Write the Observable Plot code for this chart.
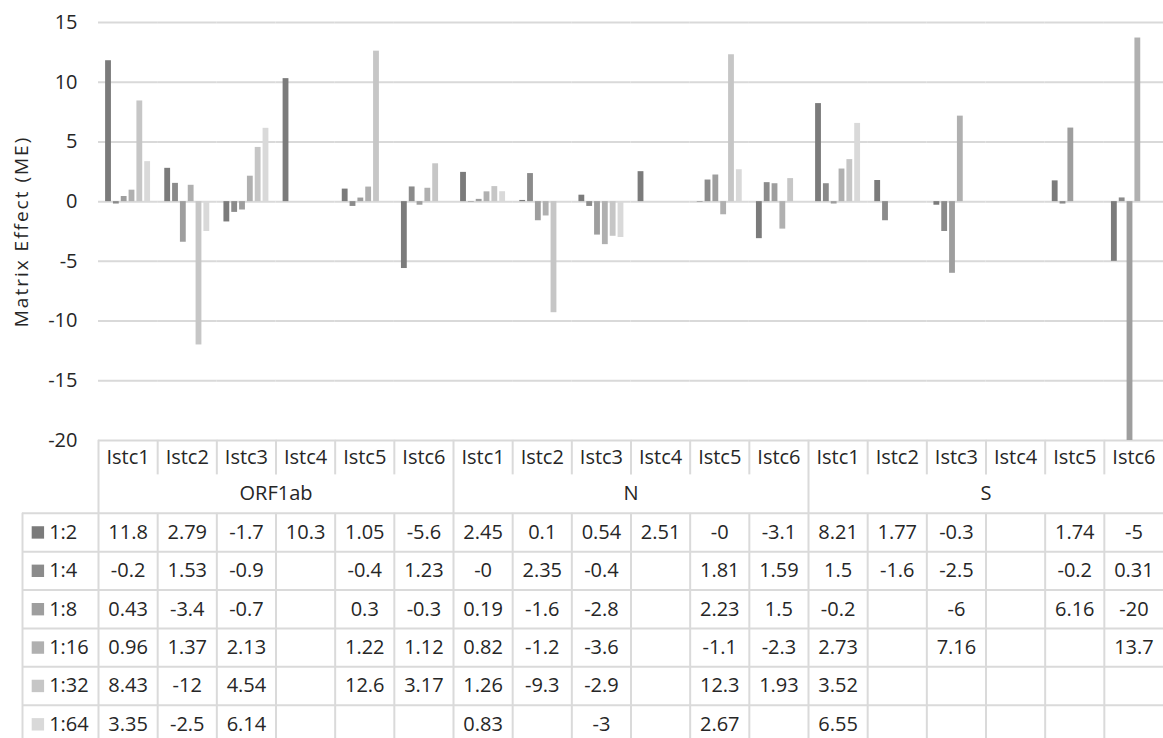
<!DOCTYPE html>
<html><head><meta charset="utf-8">
<script src="https://cdn.jsdelivr.net/npm/d3@7"></script>
<script src="https://cdn.jsdelivr.net/npm/@observablehq/plot@0.6"></script>
<style>
html,body{margin:0;padding:0;background:#fff;overflow:hidden}
#root{width:1163px;height:738px;position:relative;font-family:'Open Sans',sans-serif}
#root svg{display:block}
</style></head><body><div id="root"></div>
<script>
// ---- data ----
const genes = ["ORF1ab", "N", "S"];
const istcs = ["Istc1", "Istc2", "Istc3", "Istc4", "Istc5", "Istc6"];
const dilutions = ["1:2", "1:4", "1:8", "1:16", "1:32", "1:64"];
const yTicks = [-20, -15, -10, -5, 0, 5, 10, 15];
const seriesColors = ["#7b7b7b", "#8b8b8b", "#9e9e9e", "#b0b0b0", "#c6c6c6", "#d9d9d9"];
// columns: ORF1ab Istc1..6, N Istc1..6, S Istc1..6 (null = empty cell)
const me_1_2  = [11.8, 2.79, -1.7, 10.3, 1.05, -5.6,   2.45, 0.1, 0.54, 2.51, -0.04, -3.1,   8.21, 1.77, -0.3, null, 1.74, -5];
const me_1_4  = [-0.2, 1.53, -0.9, null, -0.4, 1.23,   -0.04, 2.35, -0.4, null, 1.81, 1.59,  1.5, -1.6, -2.5, null, -0.2, 0.31];
const me_1_8  = [0.43, -3.4, -0.7, null, 0.3, -0.3,    0.19, -1.6, -2.8, null, 2.23, 1.5,    -0.2, null, -6, null, 6.16, -20];
const me_1_16 = [0.96, 1.37, 2.13, null, 1.22, 1.12,   0.82, -1.2, -3.6, null, -1.1, -2.3,   2.73, null, 7.16, null, null, 13.7];
const me_1_32 = [8.43, -12, 4.54, null, 12.6, 3.17,    1.26, -9.3, -2.9, null, 12.3, 1.93,   3.52, null, null, null, null, null];
const me_1_64 = [3.35, -2.5, 6.14, null, null, null,   0.83, null, -3, null, 2.67, null,     6.55, null, null, null, null, null];
const yLabel = "Matrix Effect (ME)";

// ---- build tables ----
const seriesValues = [me_1_2, me_1_4, me_1_8, me_1_16, me_1_32, me_1_64];
const columns = genes.flatMap(g => istcs.map(s => g + " " + s));
const rows = [];
dilutions.forEach((dil, si) => columns.forEach((col, ci) =>
  rows.push({col, ci, dil, si, value: seriesValues[si][ci]})));

function fmt(v) {
  for (let d = 2; d >= 0; d--) {
    let s = v.toFixed(d);
    if (s.length <= 4 || d === 0) {
      if (s.includes(".")) s = s.replace(/0+$/, "").replace(/\.$/, "");
      return s;
    }
  }
}

const W = 1163;
const baseStyle = {fontSize: "20px", fontFamily: "'Open Sans', sans-serif", color: "#262626", background: "transparent", overflow: "visible"};

const chart = Plot.plot({
  width: W, height: 441,
  marginLeft: 98, marginRight: 0, marginTop: 22, marginBottom: 1,
  style: baseStyle,
  facet: {data: rows, x: "col", marginRight: 0, marginLeft: 98, marginTop: 22, marginBottom: 1},
  fx: {domain: columns, paddingInner: 0, paddingOuter: 0, axis: null, round: false, label: null},
  x: {domain: dilutions, paddingInner: 0, paddingOuter: 0.78, axis: null, round: false},
  y: {domain: [-20, 15], ticks: yTicks, tickSize: 0, tickPadding: 21, tickFormat: d => String(d),
      label: yLabel, labelAnchor: "center", labelOffset: 84, labelArrow: "none"},
  color: {domain: dilutions, range: seriesColors},
  marks: [
    Plot.ruleY(yTicks, {stroke: "#d9d9d9", strokeWidth: 2}),
    Plot.barY(rows, {x: "dil", y: "value", fill: "dil", insetLeft: 1, insetRight: 1})
  ]
});
d3.select(chart).selectAll("text").filter(function() { return this.textContent.includes("Matrix"); })
  .text(yLabel).attr("font-size", 19).style("letter-spacing", "2px");

const LEGW = 76 / (1065 / 18);
const vSegs = [];
for (let b = 0; b < 18; b++) {
  if (b % 6 === 0) vSegs.push({x: b, y1: 0.1, y2: 8});
  else { vSegs.push({x: b, y1: 0.1, y2: 1}); vSegs.push({x: b, y1: 2, y2: 8}); }
}
vSegs.push({x: -LEGW, y1: 2, y2: 8});
const hLines = [2, 3, 4, 5, 6, 7, 8];

const table = Plot.plot({
  width: W, height: 307,
  marginLeft: 22, marginRight: 0, marginTop: 0, marginBottom: 0,
  style: baseStyle,
  x: {domain: [-LEGW, 18], axis: null},
  y: {domain: [0, 8], range: [0, 307], axis: null},
  color: {domain: dilutions, range: seriesColors},
  marks: [
    Plot.ruleX(vSegs, {x: "x", y1: "y1", y2: "y2", stroke: "#dadada", strokeWidth: 2}),
    Plot.ruleY(hLines, {y: d => d, x1: -LEGW, x2: 18, stroke: "#dadada", strokeWidth: 2}),
    Plot.text(columns, {x: (d, i) => i + 0.5, y: 0.55, text: (d, i) => istcs[i % 6]}),
    Plot.text(genes, {x: (d, i) => i * 6 + 3, y: 1.5, text: d => d}),
    Plot.text(rows.filter(d => d.value != null), {x: d => d.ci + 0.5, y: d => d.si + 2.5, text: d => fmt(d.value)}),
    Plot.dot(dilutions, {x: -LEGW + 0.26, y: (d, i) => i + 2.5, symbol: "square", r: 7, fill: d => d}),
    Plot.text(dilutions, {x: -LEGW + 0.45, y: (d, i) => i + 2.5, text: d => d, textAnchor: "start"})
  ]
});
table.style.marginTop = "-5px";

const root = document.getElementById("root");
root.appendChild(chart);
root.appendChild(table);
</script></body></html>
